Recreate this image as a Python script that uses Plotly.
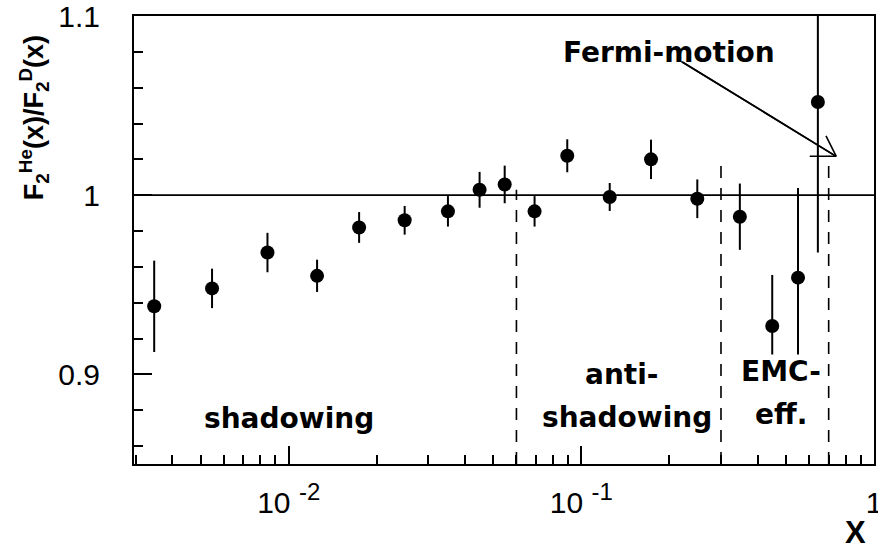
import numpy as np
import plotly.graph_objects as go

# Structure-function ratio F2(He)/F2(D) versus Bjorken x
x_vals = [0.00347, 0.00547, 0.00846, 0.0125, 0.0174, 0.0249, 0.0350, 0.0449, 0.0547,
          0.0692, 0.0895, 0.125, 0.173, 0.249, 0.348, 0.449, 0.550, 0.643]
ratio = [0.938, 0.948, 0.968, 0.955, 0.982, 0.986, 0.991, 1.003, 1.006,
         0.991, 1.022, 0.999, 1.020, 0.998, 0.988, 0.927, 0.954, 1.052]
ratio_err = [0.0255, 0.011, 0.011, 0.009, 0.0086, 0.008, 0.0085, 0.010, 0.0105,
             0.0085, 0.0092, 0.0078, 0.011, 0.0108, 0.0185, 0.0285, 0.050, 0.084]

# Region boundaries (x) and the height each dashed marker reaches
region_bounds = [0.06, 0.3, 0.7]
region_tops = [1.003, 1.018, 1.022]

# Axis ticks
SUP = '<sup><span style="font-size:24px">{}</span></sup>'
x_major = [0.01, 0.1, 1.0]
x_major_text = ["10 " + SUP.format("-2"), "10 " + SUP.format("-1"), "1"]
y_major = [0.9, 1.0, 1.1]
y_major_text = ["0.9", "1", "1.1"]

X_RANGE = (0.00296, 1.0)
Y_RANGE = (0.85, 1.1)

x_minor = [m * 10.0 ** d for d in (-3, -2, -1) for m in range(2, 10)
           if X_RANGE[0] <= m * 10.0 ** d <= X_RANGE[1]]
y_minor = [round(v, 2) for v in np.arange(0.86, 1.1, 0.02) if round(v, 2) not in y_major]

fig = go.Figure()

# Dashed region separators
for xb, top in zip(region_bounds, region_tops):
    fig.add_trace(go.Scatter(
        x=[xb, xb], y=[Y_RANGE[0], top], mode="lines",
        line=dict(color="black", width=1.6, dash="12px,10px"),
        hoverinfo="skip", showlegend=False))

# Data points with error bars
fig.add_trace(go.Scatter(
    x=x_vals, y=ratio, mode="markers",
    marker=dict(symbol="circle", size=14, color="black"),
    error_y=dict(type="data", array=ratio_err, visible=True,
                 color="black", thickness=2, width=0),
    showlegend=False))

# Unity reference line
fig.add_shape(type="line", xref="paper", x0=0, x1=1, yref="y", y0=1.0, y1=1.0,
              line=dict(color="black", width=1.8))

lx = np.log10
bold = dict(family="DejaVu Sans", size=28, color="black", weight="bold")


def region_label(text, xv, yv):
    fig.add_annotation(x=lx(xv), y=yv, xref="x", yref="y", text=text,
                       showarrow=False, font=bold, bgcolor="white",
                       borderpad=0, xanchor="center", yanchor="middle")


region_label("shadowing", 0.0100, 0.8756)
region_label("anti-", 0.137, 0.900)
region_label("shadowing", 0.143, 0.876)
region_label("EMC-", 0.482, 0.9017)
region_label("eff.", 0.480, 0.8775)

# Fermi-motion label and arrow
fig.add_annotation(x=lx(0.199), y=1.0794, xref="x", yref="y", text="Fermi-motion",
                   showarrow=False, font=bold, xanchor="center", yanchor="middle")

tip_x, tip_y = 0.743, 1.0217
tail_x, tail_y = 0.2196, 1.0746
arrow_style = dict(xref="x", yref="y", text="", showarrow=True, arrowhead=0,
                   arrowwidth=1.6, arrowcolor="black", standoff=0, startstandoff=0)
# shaft, drawn from both ends so it spans the full length
fig.add_annotation(x=lx(tip_x), y=tip_y, ax=-155, ay=-95, **arrow_style)
fig.add_annotation(x=lx(tail_x), y=tail_y, ax=155, ay=95, **arrow_style)
# open head
for ax_, ay_ in [(-28, 0), (-11, -22)]:
    fig.add_annotation(x=lx(tip_x), y=tip_y, ax=ax_, ay=ay_, **arrow_style)

# Axis titles
fig.add_annotation(xref="paper", yref="paper", x=-0.135, y=0.772,
                   text="F<sub>2</sub><sup>He</sup>(x)/F<sub>2</sub><sup>D</sup>(x)",
                   textangle=-90, showarrow=False,
                   font=dict(family="Liberation Sans", size=27, color="black", weight="bold"),
                   xanchor="center", yanchor="middle")
fig.add_annotation(xref="paper", yref="paper", x=0.992, y=-0.152, text="X",
                   showarrow=False,
                   font=dict(family="Liberation Sans", size=31, color="black", weight="bold"),
                   xanchor="right", yanchor="middle")

tick_font = dict(family="Liberation Sans", size=30, color="black")

fig.update_xaxes(
    type="log", range=[np.log10(X_RANGE[0]), np.log10(X_RANGE[1])],
    automargin=False,
    showline=True, mirror=True, linecolor="black", linewidth=2,
    showgrid=False, zeroline=False,
    tickmode="array", tickvals=x_major, ticktext=x_major_text,
    ticks="inside", ticklen=18, tickwidth=2, tickcolor="black",
    tickfont=tick_font, ticklabelstandoff=11, ticklabeloverflow="allow",
    minor=dict(tickmode="array", tickvals=x_minor, ticks="inside",
               ticklen=9, tickwidth=2, tickcolor="black", showgrid=False))

fig.update_yaxes(
    range=list(Y_RANGE),
    automargin=False,
    showline=True, mirror=True, linecolor="black", linewidth=2,
    showgrid=False, zeroline=False,
    tickmode="array", tickvals=y_major, ticktext=y_major_text,
    ticks="inside", ticklen=18, tickwidth=2, tickcolor="black",
    tickfont=tick_font, ticklabelstandoff=26, ticklabeloverflow="allow",
    minor=dict(tickmode="array", tickvals=y_minor, ticks="inside",
               ticklen=9, tickwidth=2, tickcolor="black", showgrid=False))

fig.update_layout(
    width=878, height=549,
    margin=dict(l=134, r=4, t=16, b=85),
    paper_bgcolor="white", plot_bgcolor="white",
    showlegend=False)

fig.write_html("out.html")
